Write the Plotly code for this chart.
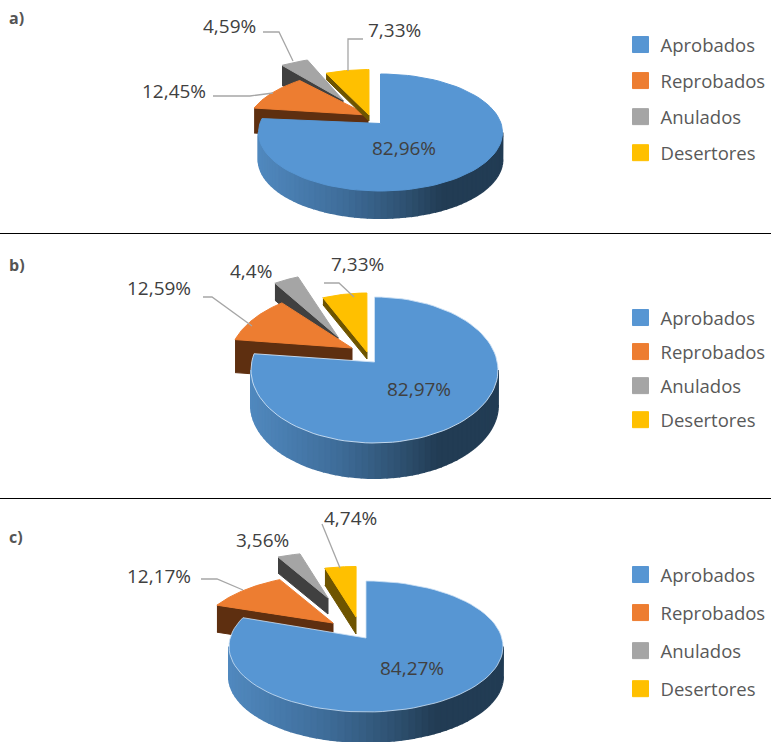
import numpy as np
import plotly.graph_objects as go

# ---------- data ----------
categories = ["Aprobados", "Reprobados", "Anulados", "Desertores"]
values_a = [82.96, 12.45, 4.59, 7.33]
values_b = [82.97, 12.59, 4.40, 7.33]
values_c = [84.27, 12.17, 3.56, 4.74]
labels_a = ["82,96%", "12,45%", "4,59%", "7,33%"]
labels_b = ["82,97%", "12,59%", "4,4%", "7,33%"]
labels_c = ["84,27%", "12,17%", "3,56%", "4,74%"]
panel_names = ["a)", "b)", "c)"]

# ---------- styling / layout ----------
W, H = 771, 742
TOP_COLORS = ["#5796d3", "#ed7d31", "#a5a5a5", "#ffc000"]
WALL_COLORS = [None, "#5e2f10", "#404040", "#6e5400"]
FONT = "Open Sans"
TEXT = "#404040"

# ellipse of each panel: rx, ry, blue wall depth
panels = [
    dict(values=values_a, labels=labels_a, rx=122, ry=58.5, depth=27, name_y=18, legend_top=26, gap=9, edge=None,
         # per slice: centre x, centre y, first angle, angle gain, apex dy, wall depth
         slices=[(380.5, 132.5, 0, .95, -9, 27), (368, 129, 291, .78, -14, 25),
                 (343, 116, 330, .79, -16, 20), (369, 128, 339.4, .78, -13, 6)],
         label_xy=[(404, 148), (174, 91), (229, 26), (394, 30)],
         leaders=[[(213, 96), (250, 96), (273, 93)], [(263, 32), (279, 32), (293, 61)],
                  [(363, 39), (348, 39), (348, 71)]]),
    dict(values=values_b, labels=labels_b, rx=123.5, ry=73, depth=35, name_y=265, legend_top=299, gap=7,
         edge="rgba(205,225,245,0.9)",
         slices=[(374.5, 370, 0, .947, -8, 35), (352, 363, 288.7, .81, -15, 33),
                 (338, 346, 329.3, .745, -9, 17), (367, 366, 339.1, .79, -14, 7)],
         label_xy=[(419, 389), (159, 288), (251, 271), (357, 264)],
         leaders=[[(203, 297), (212, 297), (252, 326)], [(324, 283), (339, 283), (354, 297)]]),
    dict(values=values_c, labels=labels_c, rx=137, ry=65.5, depth=30, name_y=537, legend_top=556, gap=11,
         edge="rgba(205,225,245,0.8)",
         slices=[(366, 646.5, 0, .976, -8.5, 30), (333, 640, 302.1, .80, -17, 27),
                 (328, 618, 338.6, .75, -20, 16), (356, 632, 346.9, .77, -15, 17)],
         label_xy=[(412, 668), (159, 576), (262, 540), (350, 518)],
         leaders=[[(201, 579), (217, 579), (243, 590)], [(322, 524), (340, 568)]]),
]
RULES_Y = [233.5, 498.5]
GRAD_T = [-1, -.3, .2, .5, 1]
GRAD_RGB = np.array([[81, 137, 191], [63, 109, 154], [47, 82, 114], [35, 61, 85], [34, 60, 84]])


def ell(cx, cy, rx, ry, deg):
    t = np.radians(deg)
    return cx + rx * np.sin(t), cy - ry * np.cos(t)


def poly(fig, x, y, color, line=None, width=1):
    fig.add_trace(go.Scatter(
        x=list(x), y=list(y), mode="lines", fill="toself", fillcolor=color,
        line=dict(color=line or color, width=width), hoverinfo="skip", showlegend=False))


fig = go.Figure()

for p in panels:
    rx, ry = p["rx"], p["ry"]
    # exploded slices first, then the big slice over them
    for i in [2, 1, 3, 0]:
        cx, cy, start, gain, apex_dy, depth = p["slices"][i]
        sweep = p["values"][i] * 3.6 * gain
        ang = np.linspace(start, start + sweep, 90)
        ax, ay = ell(cx, cy, rx, ry, ang)
        apex = (cx, cy + apex_dy)
        if i == 0:
            # curved outer wall, shaded from left to right
            edges = np.linspace(90, 270, 61)
            for a0, a1 in zip(edges[:-1], edges[1:]):
                seg = np.linspace(a0, a1, 4)
                sx, sy = ell(cx, cy, rx, ry, seg)
                tt = np.sin(np.radians((a0 + a1) / 2))
                rgb = [int(np.interp(tt, GRAD_T, GRAD_RGB[:, k])) for k in range(3)]
                poly(fig, np.r_[sx, sx[::-1]], np.r_[sy, sy[::-1] + depth],
                     f"rgb({rgb[0]},{rgb[1]},{rgb[2]})", width=2)
        else:
            # flat side wall under the leading cut
            poly(fig, [ax[0], apex[0], apex[0], ax[0]],
                 [ay[0], apex[1], apex[1] + depth, ay[0] + depth], WALL_COLORS[i])
        edge = p["edge"] if i == 0 else None
        poly(fig, np.r_[apex[0], ax, apex[0]], np.r_[apex[1], ay, apex[1]], TOP_COLORS[i], edge)

    for path in p["leaders"]:
        xs, ys = zip(*path)
        fig.add_trace(go.Scatter(x=xs, y=ys, mode="lines", line=dict(color="#a6a6a6", width=1.3),
                                 hoverinfo="skip", showlegend=False))

annotations = []
for p in panels:
    for txt, (x, y) in zip(p["labels"], p["label_xy"]):
        annotations.append(dict(x=x, y=y, text=txt, showarrow=False, xref="x", yref="y",
                                font=dict(family=FONT, size=19, color=TEXT)))
    annotations.append(dict(x=7, y=p["name_y"], text=f"<b>{panel_names[panels.index(p)]}</b>", showarrow=False,
                            xref="x", yref="y", xanchor="left",
                            font=dict(family=FONT, size=16, color="#555555")))

# one legend per panel
legend_keys = ["legend", "legend2", "legend3"]
for key in legend_keys:
    for cat, col in zip(categories, TOP_COLORS):
        fig.add_trace(go.Scatter(
            x=[None], y=[None], mode="markers", name=cat, legend=key, legendgroup=f"{key}-{cat}",
            marker=dict(symbol="square", size=16, color=col, line=dict(color=col, width=1)), hoverinfo="skip"))

legend_layout = {}
for key, p in zip(legend_keys, panels):
    legend_layout[key] = dict(
        x=620.5 / W, xanchor="left", y=1 - p["legend_top"] / H, yanchor="top",
        bgcolor="rgba(0,0,0,0)", borderwidth=0, itemsizing="trace", traceorder="grouped",
        tracegroupgap=p["gap"], font=dict(family=FONT, size=18.5, color="#595959"),
        itemclick=False, itemdoubleclick=False)

shapes = [dict(type="line", x0=0, x1=W, y0=y, y1=y, xref="x", yref="y", line=dict(color="#000000", width=1))
          for y in RULES_Y]

fig.update_layout(
    width=W, height=H, margin=dict(l=0, r=0, t=0, b=0), paper_bgcolor="white", plot_bgcolor="white",
    xaxis=dict(range=[0, W], visible=False, fixedrange=True),
    yaxis=dict(range=[H, 0], visible=False, fixedrange=True),
    annotations=annotations, shapes=shapes, showlegend=True, **legend_layout)

fig.write_html("out.html", config=dict(displayModeBar=False),
               post_script="document.body.style.margin='0';document.documentElement.style.overflow='hidden';")
